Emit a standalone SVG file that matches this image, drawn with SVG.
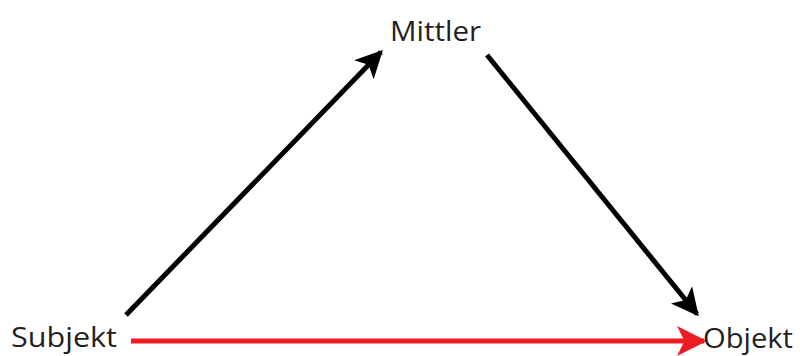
<svg xmlns="http://www.w3.org/2000/svg" width="800" height="356" viewBox="0 0 800 356">
<defs>
<style>
.lbl{font-family:"Open Sans","Liberation Sans",sans-serif;font-size:28px;fill:#231f20}
.blk{stroke:#000;stroke-width:5;fill:none}
.red{stroke:#ed1c24;stroke-width:5;fill:none}
</style>
<marker id="ab" viewBox="0 0 10 10" refX="9" refY="5" markerWidth="5.5" markerHeight="5.5" markerUnits="strokeWidth" orient="auto"><path d="M0,0 L10,5 L0,10 L2.5,5 Z" fill="#000"/></marker>
<marker id="ar" viewBox="0 0 10 10" refX="9" refY="5" markerWidth="6" markerHeight="6" markerUnits="strokeWidth" orient="auto"><path d="M0,0 L10,5 L0,10 L2.5,5 Z" fill="#ed1c24"/></marker>
</defs>
<rect width="800" height="356" fill="#fff"/>
<g id="connectors">
<line class="blk" x1="126" y1="315" x2="381" y2="52" marker-end="url(#ab)"/>
<line class="blk" x1="487" y1="55" x2="697" y2="314" marker-end="url(#ab)"/>
<line class="red" x1="131" y1="341" x2="704" y2="341" marker-end="url(#ar)"/>
</g>
<g id="mittler"><text class="lbl" x="390" y="41" textLength="91" lengthAdjust="spacingAndGlyphs">Mittler</text></g>
<g id="subjekt"><text class="lbl" x="11" y="347" textLength="106" lengthAdjust="spacingAndGlyphs">Subjekt</text></g>
<g id="objekt"><text class="lbl" x="703" y="348" textLength="90" lengthAdjust="spacingAndGlyphs">Objekt</text></g>
</svg>
